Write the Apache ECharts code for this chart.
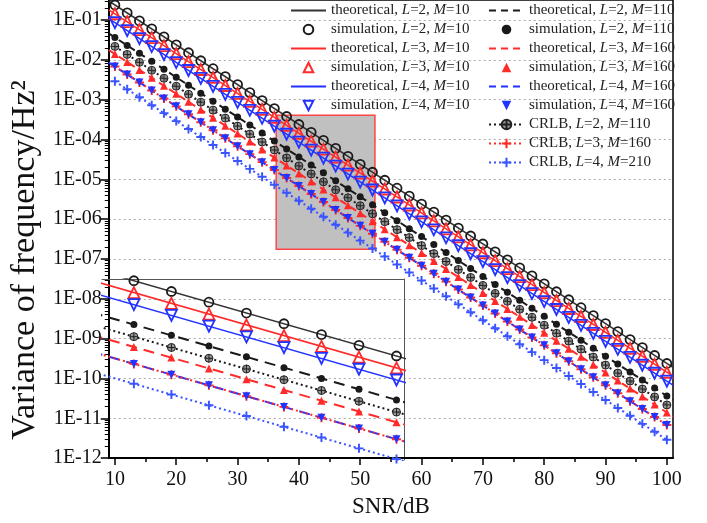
<!DOCTYPE html>
<html><head><meta charset="utf-8">
<script src="https://cdn.jsdelivr.net/npm/echarts@6/dist/echarts.min.js"></script>
<style>html,body{margin:0;padding:0;background:#fff}#c{width:707px;height:523px}</style>
</head><body><div id="c"></div>
<script>
// ---------- data ----------
const snr = [10,12,14,16,18,20,22,24,26,28,30,32,34,36,38,40,42,44,46,48,50,52,54,56,58,60,62,64,66,68,70,72,74,76,78,80,82,84,86,88,90,92,94,96,98,100];
const snrEdge = [9, 101];
const xTicks = [10,20,30,40,50,60,70,80,90,100];
const xMinorTicks = [15,25,35,45,55,65,75,85,95];
const yTicks = [1e-12,1e-11,1e-10,1e-9,1e-8,1e-7,1e-6,1e-5,1e-4,1e-3,1e-2,1e-1];
const yTickLabels = ['1E-12','1E-11','1E-10','1E-09','1E-08','1E-07','1E-06','1E-05','1E-04','1E-03','1E-02','1E-01'];
const xRange = [9, 101];
const yRange = [1e-12, 0.3162];
const zoomX = [36.3, 52.4];
const zoomY = [1.75e-7, 4.05e-4];

// theoretical curves (values at the two plot edges)
const thL2M10  = [0.2985, 1.884e-10];
const thL3M10  = [0.1799, 1.135e-10];
const thL4M10  = [0.1072, 6.761e-11];
const thL2M110 = [0.04571, 2.884e-11];
const thL3M160 = [0.01758, 1.109e-11];
const thL4M160 = [0.008511, 5.370e-12];

const simL2M10 = [2.37e-1,1.50e-1,9.44e-2,5.96e-2,3.76e-2,2.37e-2,1.50e-2,9.44e-3,5.96e-3,3.76e-3,2.37e-3,1.50e-3,9.44e-4,5.96e-4,3.76e-4,2.37e-4,1.50e-4,9.44e-5,5.96e-5,3.76e-5,2.37e-5,1.50e-5,9.44e-6,5.96e-6,3.76e-6,2.37e-6,1.50e-6,9.44e-7,5.96e-7,3.76e-7,2.37e-7,1.50e-7,9.44e-8,5.96e-8,3.76e-8,2.37e-8,1.50e-8,9.44e-9,5.96e-9,3.76e-9,2.37e-9,1.50e-9,9.44e-10,5.96e-10,3.76e-10,2.37e-10];
const simL3M10 = [1.43e-1,9.02e-2,5.69e-2,3.59e-2,2.26e-2,1.43e-2,9.02e-3,5.69e-3,3.59e-3,2.26e-3,1.43e-3,9.02e-4,5.69e-4,3.59e-4,2.26e-4,1.43e-4,9.02e-5,5.69e-5,3.59e-5,2.26e-5,1.43e-5,9.02e-6,5.69e-6,3.59e-6,2.26e-6,1.43e-6,9.02e-7,5.69e-7,3.59e-7,2.26e-7,1.43e-7,9.02e-8,5.69e-8,3.59e-8,2.26e-8,1.43e-8,9.02e-9,5.69e-9,3.59e-9,2.26e-9,1.43e-9,9.02e-10,5.69e-10,3.59e-10,2.26e-10,1.43e-10];
const simL4M10 = [8.51e-2,5.37e-2,3.39e-2,2.14e-2,1.35e-2,8.51e-3,5.37e-3,3.39e-3,2.14e-3,1.35e-3,8.51e-4,5.37e-4,3.39e-4,2.14e-4,1.35e-4,8.51e-5,5.37e-5,3.39e-5,2.14e-5,1.35e-5,8.51e-6,5.37e-6,3.39e-6,2.14e-6,1.35e-6,8.51e-7,5.37e-7,3.39e-7,2.14e-7,1.35e-7,8.51e-8,5.37e-8,3.39e-8,2.14e-8,1.35e-8,8.51e-9,5.37e-9,3.39e-9,2.14e-9,1.35e-9,8.51e-10,5.37e-10,3.39e-10,2.14e-10,1.35e-10,8.51e-11];
const simL2M110 = [3.63e-2,2.29e-2,1.45e-2,9.12e-3,5.75e-3,3.63e-3,2.29e-3,1.45e-3,9.12e-4,5.75e-4,3.63e-4,2.29e-4,1.45e-4,9.12e-5,5.75e-5,3.63e-5,2.29e-5,1.45e-5,9.12e-6,5.75e-6,3.63e-6,2.29e-6,1.45e-6,9.12e-7,5.75e-7,3.63e-7,2.29e-7,1.45e-7,9.12e-8,5.75e-8,3.63e-8,2.29e-8,1.45e-8,9.12e-9,5.75e-9,3.63e-9,2.29e-9,1.45e-9,9.12e-10,5.75e-10,3.63e-10,2.29e-10,1.45e-10,9.12e-11,5.75e-11,3.63e-11];
const crlbL2M110 = [2.16e-2,1.36e-2,8.61e-3,5.43e-3,3.43e-3,2.16e-3,1.36e-3,8.61e-4,5.43e-4,3.43e-4,2.16e-4,1.36e-4,8.61e-5,5.43e-5,3.43e-5,2.16e-5,1.36e-5,8.61e-6,5.43e-6,3.43e-6,2.16e-6,1.36e-6,8.61e-7,5.43e-7,3.43e-7,2.16e-7,1.36e-7,8.61e-8,5.43e-8,3.43e-8,2.16e-8,1.36e-8,8.61e-9,5.43e-9,3.43e-9,2.16e-9,1.36e-9,8.61e-10,5.43e-10,3.43e-10,2.16e-10,1.36e-10,8.61e-11,5.43e-11,3.43e-11,2.16e-11];
const simL3M160 = [1.40e-2,8.81e-3,5.56e-3,3.51e-3,2.21e-3,1.40e-3,8.81e-4,5.56e-4,3.51e-4,2.21e-4,1.40e-4,8.81e-5,5.56e-5,3.51e-5,2.21e-5,1.40e-5,8.81e-6,5.56e-6,3.51e-6,2.21e-6,1.40e-6,8.81e-7,5.56e-7,3.51e-7,2.21e-7,1.40e-7,8.81e-8,5.56e-8,3.51e-8,2.21e-8,1.40e-8,8.81e-9,5.56e-9,3.51e-9,2.21e-9,1.40e-9,8.81e-10,5.56e-10,3.51e-10,2.21e-10,1.40e-10,8.81e-11,5.56e-11,3.51e-11,2.21e-11,1.40e-11];
const simL4M160 = [6.76e-3,4.27e-3,2.69e-3,1.70e-3,1.07e-3,6.76e-4,4.27e-4,2.69e-4,1.70e-4,1.07e-4,6.76e-5,4.27e-5,2.69e-5,1.70e-5,1.07e-5,6.76e-6,4.27e-6,2.69e-6,1.70e-6,1.07e-6,6.76e-7,4.27e-7,2.69e-7,1.70e-7,1.07e-7,6.76e-8,4.27e-8,2.69e-8,1.70e-8,1.07e-8,6.76e-9,4.27e-9,2.69e-9,1.70e-9,1.07e-9,6.76e-10,4.27e-10,2.69e-10,1.70e-10,1.07e-10,6.76e-11,4.27e-11,2.69e-11,1.70e-11,1.07e-11,6.76e-12];
const crlbL3M160 = [6.76e-3,4.27e-3,2.69e-3,1.70e-3,1.07e-3,6.76e-4,4.27e-4,2.69e-4,1.70e-4,1.07e-4,6.76e-5,4.27e-5,2.69e-5,1.70e-5,1.07e-5,6.76e-6,4.27e-6,2.69e-6,1.70e-6,1.07e-6,6.76e-7,4.27e-7,2.69e-7,1.70e-7,1.07e-7,6.76e-8,4.27e-8,2.69e-8,1.70e-8,1.07e-8,6.76e-9,4.27e-9,2.69e-9,1.70e-9,1.07e-9,6.76e-10,4.27e-10,2.69e-10,1.70e-10,1.07e-10,6.76e-11,4.27e-11,2.69e-11,1.70e-11,1.07e-11,6.76e-12];
const crlbL4M210 = [2.88e-3,1.82e-3,1.15e-3,7.24e-4,4.57e-4,2.88e-4,1.82e-4,1.15e-4,7.24e-5,4.57e-5,2.88e-5,1.82e-5,1.15e-5,7.24e-6,4.57e-6,2.88e-6,1.82e-6,1.15e-6,7.24e-7,4.57e-7,2.88e-7,1.82e-7,1.15e-7,7.24e-8,4.57e-8,2.88e-8,1.82e-8,1.15e-8,7.24e-9,4.57e-9,2.88e-9,1.82e-9,1.15e-9,7.24e-10,4.57e-10,2.88e-10,1.82e-10,1.15e-10,7.24e-11,4.57e-11,2.88e-11,1.82e-11,1.15e-11,7.24e-12,4.57e-12,2.88e-12];

// ---------- styling ----------
const FONT = 'Liberation Serif';
const BLACK = '#1a1a1a', RED = '#ff2a2a', BLUE = '#2233ff', BLUE2 = '#3a55ff';
const PLUS = 'path://M-1.3,-6L1.3,-6L1.3,-1.3L6,-1.3L6,1.3L1.3,1.3L1.3,6L-1.3,6L-1.3,1.3L-6,1.3L-6,-1.3L-1.3,-1.3Z';
const OPLUS = 'path://M0,-5A5,5 0 1,1 0,5A5,5 0 1,1 0,-5Z M-5,0L5,0 M0,-5L0,5';

const yMinorTicks = [];
yTicks.forEach(t => { for (let k = 2; k <= 9; k++) { const v = t * k; if (v <= yRange[1]) yMinorTicks.push(v); } });

function pairs(xs, ys) { return xs.map((x, i) => [x, ys[i]]); }

function makeSeries(g) {
  const xi = g === 0 ? 0 : 2, yi = g === 0 ? 0 : 2;
  const dash = g === 0 ? [7, 5] : [11, 7];
  const dot = [2, 3];
  const th = (name, arr, color, type, w) => ({
    name, type: 'line', xAxisIndex: xi, yAxisIndex: yi, symbol: 'none', z: 2,
    data: pairs(snrEdge, arr), lineStyle: { color, width: w, type }, itemStyle: { color }, silent: true
  });
  const sim = (name, arr, symbol, size, rot, fill, border, bw) => ({
    name, type: 'line', xAxisIndex: xi, yAxisIndex: yi, z: 4, symbol, symbolSize: size, symbolRotate: rot,
    showSymbol: true, showAllSymbol: true,
    data: pairs(snr, arr), lineStyle: { opacity: 0, color: border },
    itemStyle: { color: fill, borderColor: border, borderWidth: bw, opacity: 1 }, silent: true
  });
  const crlb = (name, arr, color, symbol, size, fill, border, bw) => ({
    name, type: 'line', xAxisIndex: xi, yAxisIndex: yi, z: 3, symbol, symbolSize: size, showSymbol: true, showAllSymbol: true,
    data: pairs(snr, arr), lineStyle: { color, width: 2, type: dot },
    itemStyle: { color: fill, borderColor: border, borderWidth: bw }, silent: true
  });
  return [
    th('theoretical, L=2, M=10', thL2M10, '#333', 'solid', 1.5),
    th('theoretical, L=3, M=10', thL3M10, RED, 'solid', 1.5),
    th('theoretical, L=4, M=10', thL4M10, BLUE, 'solid', 1.5),
    th('theoretical, L=2, M=110', thL2M110, BLACK, dash, 2),
    th('theoretical, L=3, M=160', thL3M160, RED, dash, 2),
    th('theoretical, L=4, M=160', thL4M160, BLUE, dash, 2),
    crlb('CRLB, L=2, M=110', crlbL2M110, BLACK, OPLUS, 8, 'rgba(120,120,120,0.75)', '#222', 1),
    crlb('CRLB, L=3, M=160', crlbL3M160, RED, PLUS, 9, RED, RED, 0),
    crlb('CRLB, L=4, M=210', crlbL4M210, BLUE2, PLUS, 9, BLUE2, BLUE2, 0),
    sim('simulation, L=2, M=10', simL2M10, 'circle', 9, 0, 'rgba(0,0,0,0)', BLACK, 1.8),
    sim('simulation, L=3, M=10', simL3M10, 'triangle', 11, 0, 'rgba(0,0,0,0)', RED, 1.8),
    sim('simulation, L=4, M=10', simL4M10, 'triangle', 11, 180, 'rgba(0,0,0,0)', BLUE, 1.8),
    sim('simulation, L=2, M=110', simL2M110, 'circle', 7, 0, BLACK, BLACK, 0),
    sim('simulation, L=3, M=160', simL3M160, 'triangle', 8, 0, RED, RED, 0),
    sim('simulation, L=4, M=160', simL4M160, 'triangle', 8, 180, BLUE, BLUE, 0)
  ];
}

const legendText = {
  fontFamily: FONT, fontSize: 15, color: '#222', lineHeight: 15,
  rich: { i: { fontFamily: FONT, fontSize: 15, fontStyle: 'italic', color: '#222', lineHeight: 15 } }
};
const legendCommon = {
  orient: 'vertical', top: -2, itemWidth: 35, itemHeight: 12, itemGap: 4, selectedMode: false,
  textStyle: legendText, formatter: n => n.replace(/([LM])=/g, '{i|$1}=')
};
function legendItem(n) {
  if (n.indexOf('theoretical') === 0) return { name: n, itemStyle: { opacity: 0 } };
  if (n.indexOf('simulation') === 0) return { name: n, lineStyle: { opacity: 0 } };
  return { name: n };
}
const legendLeft = ['theoretical, L=2, M=10','simulation, L=2, M=10','theoretical, L=3, M=10','simulation, L=3, M=10','theoretical, L=4, M=10','simulation, L=4, M=10'];
const legendRight = ['theoretical, L=2, M=110','simulation, L=2, M=110','theoretical, L=3, M=160','simulation, L=3, M=160','theoretical, L=4, M=160','simulation, L=4, M=160','CRLB, L=2, M=110','CRLB, L=3, M=160','CRLB, L=4, M=210'];

const option = {
  animation: false,
  backgroundColor: '#fff',
  grid: [
    { left: 102, right: 34, top: 0, bottom: 63, show: true, borderColor: '#000', borderWidth: 1.5, backgroundColor: 'transparent' },
    { left: 102, top: 279, width: 302, height: 181 }
  ],
  legend: [
    Object.assign({ left: 285, data: legendLeft.map(legendItem) }, legendCommon),
    Object.assign({ left: 483, data: legendRight.map(legendItem) }, legendCommon)
  ],
  xAxis: [
    { type: 'value', gridIndex: 0, min: xRange[0], max: xRange[1], position: 'bottom',
      name: 'SNR/dB', nameLocation: 'middle', nameGap: 36,
      nameTextStyle: { fontFamily: FONT, fontSize: 23, color: '#111' },
      axisLine: { onZero: false, lineStyle: { color: '#000', width: 2 } },
      axisTick: { customValues: xTicks, length: 7, lineStyle: { width: 1.5, color: '#000' } },
      axisLabel: { customValues: xTicks, margin: 12, fontFamily: FONT, fontSize: 20, color: '#111' },
      splitLine: { show: false } },
    { type: 'value', gridIndex: 0, min: xRange[0], max: xRange[1], position: 'bottom',
      axisLine: { show: false, onZero: false },
      axisTick: { customValues: xMinorTicks, length: 4, lineStyle: { width: 1.5, color: '#000' } },
      axisLabel: { show: false }, splitLine: { show: false } },
    { type: 'value', gridIndex: 1, min: zoomX[0], max: zoomX[1], position: 'top',
      axisLine: { onZero: false, lineStyle: { color: '#555', width: 1 } },
      axisTick: { show: false }, axisLabel: { show: false }, splitLine: { show: false } }
  ],
  yAxis: [
    { type: 'log', logBase: 10, gridIndex: 0, min: yRange[0], max: yRange[1], position: 'left',
      name: 'Variance of frequency/Hz²', nameLocation: 'middle', nameGap: 60, nameRotate: 90,
      nameTextStyle: { fontFamily: FONT, fontSize: 34, color: '#111', padding: [0, 62, 0, 0] },
      axisLine: { onZero: false, lineStyle: { color: '#000', width: 2 } },
      axisTick: { customValues: yTicks, length: 8, lineStyle: { width: 1.5, color: '#000' } },
      axisLabel: { customValues: yTicks, margin: 7, fontFamily: FONT, fontSize: 20, color: '#111',
        formatter: v => { const e = Math.round(Math.log10(v)); const i = yTicks.findIndex(t => Math.round(Math.log10(t)) === e); return i >= 0 ? yTickLabels[i] : ''; } },
      splitLine: { show: true, lineStyle: { color: '#aaa', type: [2, 3], width: 1 } } },
    { type: 'log', logBase: 10, gridIndex: 0, min: yRange[0], max: yRange[1], position: 'left',
      axisLine: { show: false, onZero: false },
      axisTick: { customValues: yMinorTicks, length: 4, lineStyle: { width: 1, color: '#000' } },
      axisLabel: { show: false }, splitLine: { show: false } },
    { type: 'log', logBase: 10, gridIndex: 1, min: zoomY[0], max: zoomY[1], position: 'right',
      axisLine: { onZero: false, lineStyle: { color: '#555', width: 1 } },
      axisTick: { show: false }, axisLabel: { show: false }, splitLine: { show: false } }
  ],
  series: [
    { name: 'zoomRect', type: 'line', xAxisIndex: 0, yAxisIndex: 0, data: [], z: 1, silent: true,
      markArea: { silent: true, z: 1,
        itemStyle: { color: '#c0c0c0', opacity: 1, borderColor: '#ff4444', borderWidth: 1.5 },
        data: [[{ coord: [zoomX[0], zoomY[1]] }, { coord: [zoomX[1], zoomY[0]] }]] } }
  ].concat(makeSeries(0), makeSeries(1))
};

const chart = echarts.init(document.getElementById('c'), null, { renderer: 'canvas' });
chart.setOption(option);
</script>
</body></html>
